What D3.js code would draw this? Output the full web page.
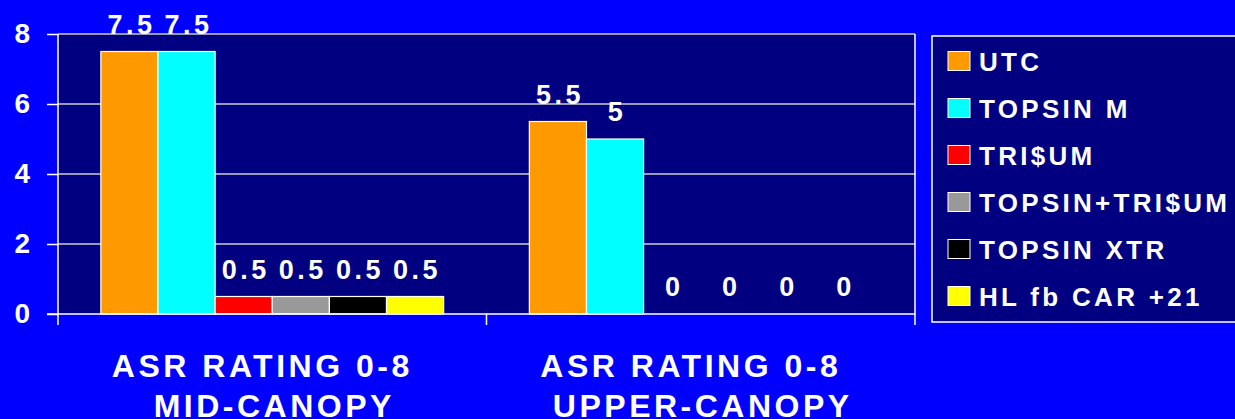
<!DOCTYPE html>
<html>
<head>
<meta charset="utf-8">
<title>ASR rating</title>
<script src="https://d3js.org/d3.v7.min.js"></script>
<style>
body { margin: 0; background: #0000ff; }
svg { font-family: "Liberation Sans", Arial, sans-serif; font-weight: bold; }
.tick text { fill: #fff; font-size: 28px; font-weight: bold; }
</style>
</head>
<body>
<div id="chart"></div>
<script>

// data
var categories = ["ASR RATING 0-8|MID-CANOPY", "ASR RATING 0-8|UPPER-CANOPY"];
var seriesNames = ["UTC", "TOPSIN M", "TRI$UM", "TOPSIN+TRI$UM", "TOPSIN XTR", "HL fb CAR +21"];
var seriesColors = ["#ff9900", "#00ffff", "#ff0000", "#999999", "#000000", "#ffff00"];
var midCanopy = [7.5, 7.5, 0.5, 0.5, 0.5, 0.5];
var upperCanopy = [5.5, 5, 0, 0, 0, 0];
var yTicks = [0, 2, 4, 6, 8];

var values = [midCanopy, upperCanopy];

var width = 1235, height = 419;
var plotLeft = 58, plotRight = 915, plotTop = 34, plotBottom = 314;

var svg = d3.select("#chart").append("svg")
  .attr("width", width)
  .attr("height", height);

svg.append("rect")
  .attr("width", width).attr("height", height)
  .attr("fill", "#0000ff");

/* scales */
var x0 = d3.scaleBand()
  .domain(categories)
  .range([plotLeft, plotRight]);

var x1 = d3.scaleBand()
  .domain(seriesNames)
  .range([0, x0.bandwidth()])
  .paddingOuter(0.75);

var y = d3.scaleLinear()
  .domain([0, 8])
  .range([plotBottom, plotTop]);

/* plot area */
svg.append("rect")
  .attr("x", plotLeft).attr("y", plotTop)
  .attr("width", plotRight - plotLeft).attr("height", plotBottom - plotTop)
  .attr("fill", "#000080");

/* grid */
svg.append("g")
  .selectAll("line")
  .data(yTicks.filter(d => d > 0)).enter()
  .append("line")
  .attr("x1", plotLeft).attr("x2", plotRight)
  .attr("y1", d => y(d)).attr("y2", d => y(d))
  .attr("stroke", "#cccccc")
  .attr("stroke-width", 1.5);

/* bars */
var groups = svg.append("g")
  .selectAll("g")
  .data(categories).enter()
  .append("g")
  .attr("transform", d => `translate(${x0(d)},0)`);

groups.selectAll("rect")
  .data((d, i) => values[i].map((v, j) => ({name: seriesNames[j], value: v, color: seriesColors[j]})))
  .enter()
  .filter(d => d.value > 0)
  .append("rect")
  .attr("x", d => x1(d.name))
  .attr("y", d => y(d.value))
  .attr("width", x1.bandwidth())
  .attr("height", d => y(0) - y(d.value))
  .attr("fill", d => d.color)
  .attr("stroke", "#ffffff")
  .attr("stroke-width", 1.2);

groups.selectAll("text")
  .data((d, i) => values[i].map((v, j) => ({name: seriesNames[j], value: v})))
  .enter()
  .append("text")
  .attr("x", d => x1(d.name) + x1.bandwidth() / 2 + 2)
  .attr("y", d => y(d.value) - 18)
  .attr("text-anchor", "middle")
  .attr("fill", "#fff")
  .style("font-size", "27px")
  .style("letter-spacing", "3.5px")
  .text(d => d.value);

/* axes */
var yAxis = d3.axisLeft(y).tickValues(yTicks).tickSize(11).tickPadding(17);
var gy = svg.append("g")
  .attr("transform", `translate(${plotLeft},0)`)
  .call(yAxis);
gy.select(".domain").remove();
gy.selectAll(".tick line").attr("stroke", "#fff").attr("stroke-width", 1.5);

// baseline, left and right edges
svg.append("line")
  .attr("x1", plotLeft - 11).attr("x2", plotRight)
  .attr("y1", y(0)).attr("y2", y(0))
  .attr("stroke", "#fff").attr("stroke-width", 1.5);

var edges = categories.map(c => x0(c)).concat([x0.range()[1]]);
svg.append("g")
  .selectAll("line")
  .data(edges).enter()
  .append("line")
  .attr("x1", d => d).attr("x2", d => d)
  .attr("y1", (d, i) => i == 1 ? y(0) : plotTop).attr("y2", 325)
  .attr("stroke", "#fff").attr("stroke-width", 1.5);

/* category labels */
var catLabels = svg.append("g")
  .selectAll("text")
  .data(categories).enter()
  .append("text")
  .attr("fill", "#fff")
  .attr("text-anchor", "middle")
  .style("font-size", "32px")
  .style("letter-spacing", "3.5px");

catLabels.append("tspan")
  .attr("x", d => x0(d) + x0.bandwidth() / 2 - 10)
  .attr("y", 377)
  .text(d => d.split("|")[0]);
catLabels.append("tspan")
  .attr("x", d => x0(d) + x0.bandwidth() / 2 + 2)
  .attr("y", 417)
  .text(d => d.split("|")[1]);

/* legend */
var legend = svg.append("g");
legend.append("rect")
  .attr("x", 932).attr("y", 36)
  .attr("width", 320).attr("height", 286)
  .attr("fill", "#000080")
  .attr("stroke", "#fff").attr("stroke-width", 1.5);

var items = legend.selectAll(".item")
  .data(seriesNames).enter()
  .append("g")
  .attr("class", "item")
  .attr("transform", (d, i) => `translate(948,${61 + i * 47})`);

items.append("rect")
  .attr("x", 0).attr("y", -9.5)
  .attr("width", 22).attr("height", 19)
  .attr("fill", (d, i) => seriesColors[i])
  .attr("stroke", "#fff").attr("stroke-width", 1);

items.append("text")
  .attr("x", 31).attr("y", 9.5)
  .attr("fill", "#fff")
  .style("font-size", "26px")
  .style("letter-spacing", "3.3px")
  .text(d => d);

</script>
</body>
</html>
